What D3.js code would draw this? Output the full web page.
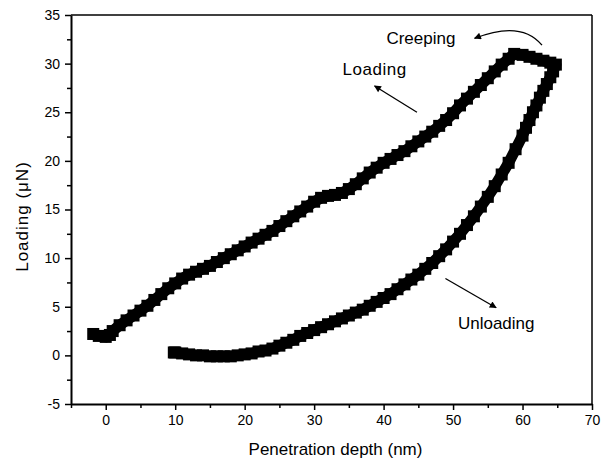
<!DOCTYPE html>
<html>
<head>
<meta charset="utf-8">
<script src="https://cdn.jsdelivr.net/npm/d3@7"></script>
<style>
  body { margin: 0; background: #fff; }
  svg { display: block; font-family: "Liberation Sans", Arial, sans-serif; }
</style>
</head>
<body>
<div id="chart"></div>
<script>
// load-depth curve (depth nm, load uN)
var loadingX = [-1.8, -1.0, 0.0, 0.6, 1, 2, 3, 4, 5, 6, 7, 8, 9, 10, 11, 12, 13, 14, 15, 16, 17, 18, 19, 20,
  21, 22, 23, 24, 25, 26, 27, 28, 29, 30, 31, 32, 33, 34, 35, 36, 37, 38, 39, 40, 41, 42, 43, 44, 45,
  46, 47, 48, 49, 50, 51, 52, 53, 54, 55, 56, 57, 58, 58.8];
var loadingY = [2.2, 2.0, 1.9, 2.1, 2.5, 3.1, 3.6, 4.1, 4.6, 5.1, 5.7, 6.3, 6.9, 7.4, 7.9, 8.3, 8.6, 8.9, 9.2, 9.6, 10.0, 10.4, 10.8, 11.2,
  11.6, 12.0, 12.4, 12.8, 13.3, 13.8, 14.3, 14.8, 15.3, 15.8, 16.2, 16.4, 16.5, 16.7, 17.1, 17.6, 18.2, 18.8, 19.3, 19.8, 20.2, 20.6, 21.0, 21.5, 22.0,
  22.5, 23.0, 23.6, 24.2, 24.9, 25.7, 26.4, 27.1, 27.8, 28.5, 29.2, 29.9, 30.5, 31.0];

var creepX = [58.8, 60, 61, 62, 63, 64, 64.8];
var creepY = [31.0, 30.9, 30.7, 30.5, 30.3, 30.1, 29.9];

var unloadX = [64.8, 64.4, 64, 63.5, 63, 62.5, 62, 61.5, 61, 60.5, 60, 59, 58, 57, 56, 55, 54, 53, 52, 51, 50,
  49, 48, 47, 46, 45, 44, 43, 42, 41, 40, 39, 38, 37, 36, 35, 34, 33, 32, 31, 30, 29, 28, 27, 26, 25,
  24, 23, 22, 21, 20, 19, 18, 17, 16, 15, 14, 13, 12, 11, 10, 9.8];
var unloadY = [29.9, 29.2, 28.6, 27.9, 27.2, 26.5, 25.7, 25.0, 24.2, 23.4, 22.6, 21.2, 19.8, 18.6, 17.4, 16.3, 15.3, 14.3, 13.4, 12.5, 11.7,
  10.9, 10.2, 9.5, 8.9, 8.3, 7.8, 7.3, 6.8, 6.3, 5.9, 5.5, 5.1, 4.7, 4.4, 4.1, 3.8, 3.5, 3.2, 2.9, 2.6, 2.3, 2.0, 1.6, 1.3, 1.0,
  0.7, 0.5, 0.4, 0.2, 0.1, 0.0, -0.1, -0.1, -0.1, -0.1, 0.0, 0.0, 0.1, 0.2, 0.3, 0.3];

var xTicks = [0, 10, 20, 30, 40, 50, 60, 70];
var xMinor = [-5, 5, 15, 25, 35, 45, 55, 65];
var yTicks = [-5, 0, 5, 10, 15, 20, 25, 30, 35];
var yMinor = [-2.5, 2.5, 7.5, 12.5, 17.5, 22.5, 27.5, 32.5];

// set the dimensions and margins of the graph
var margin = {top: 15, right: 18, bottom: 59, left: 71},
    width = 610 - margin.left - margin.right,
    height = 463 - margin.top - margin.bottom;

var x = d3.scaleLinear().domain([-5, 70]).range([0, width]);
var y = d3.scaleLinear().domain([-5, 35]).range([height, 0]);

var svg = d3.select("#chart").append("svg")
    .attr("width", 610)
    .attr("height", 463)
  .append("g")
    .attr("transform", "translate(" + margin.left + "," + margin.top + ")");

function zip(xs, ys) {
  return xs.map(function(v, i) { return {x: v, y: ys[i]}; });
}
var curve = zip(loadingX, loadingY).concat(zip(creepX, creepY).slice(1), zip(unloadX, unloadY).slice(1));

// thick trace
var line = d3.line()
    .x(function(d) { return x(d.x); })
    .y(function(d) { return y(d.y); });

svg.append("path")
    .datum(curve)
    .attr("d", line)
    .attr("fill", "none")
    .attr("stroke", "#000")
    .attr("stroke-width", 11)
    .attr("stroke-linejoin", "round");

// square markers
var s = 12;
svg.append("g").selectAll("rect")
    .data(curve)
    .enter().append("rect")
    .attr("x", function(d) { return x(d.x) - s / 2; })
    .attr("y", function(d) { return y(d.y) - s / 2; })
    .attr("width", s)
    .attr("height", s)
    .attr("fill", "#000");

// frame (top and right)
svg.append("line").attr("x1", x(-5)).attr("x2", x(70)).attr("y1", y(35)).attr("y2", y(35))
    .attr("stroke", "#000").attr("stroke-width", 1.5);
svg.append("line").attr("x1", x(70)).attr("x2", x(70)).attr("y1", y(35)).attr("y2", y(-5))
    .attr("stroke", "#000").attr("stroke-width", 1.5);

// minor ticks
svg.append("g")
    .attr("transform", "translate(0," + height + ")")
    .call(d3.axisBottom(x).tickValues(xMinor).tickSize(4).tickFormat(""))
    .call(function(g) { g.select(".domain").remove(); })
    .selectAll("line").attr("stroke-width", 1.5);
svg.append("g")
    .call(d3.axisLeft(y).tickValues(yMinor).tickSize(4).tickFormat(""))
    .call(function(g) { g.select(".domain").remove(); })
    .selectAll("line").attr("stroke-width", 1.5);

// x axis
var xAxis = svg.append("g")
    .attr("transform", "translate(0," + height + ")")
    .call(d3.axisBottom(x).tickValues(xTicks).tickSize(6).tickSizeOuter(0).tickPadding(5)
        .tickFormat(function(d) { return String(d); }));
xAxis.select(".domain").attr("stroke-width", 2);
xAxis.selectAll(".tick line").attr("stroke-width", 1.5);
xAxis.selectAll("text").attr("font-size", 14).attr("fill", "#000")
    .attr("font-family", "Liberation Sans, Arial, sans-serif");

// y axis
var yAxis = svg.append("g")
    .call(d3.axisLeft(y).tickValues(yTicks).tickSize(6).tickSizeOuter(0).tickPadding(5)
        .tickFormat(function(d) { return String(d); }));
yAxis.select(".domain").attr("stroke-width", 2);
yAxis.selectAll(".tick line").attr("stroke-width", 1.5);
yAxis.selectAll("text").attr("font-size", 14).attr("fill", "#000")
    .attr("font-family", "Liberation Sans, Arial, sans-serif");

// axis titles
svg.append("text")
    .attr("x", width / 2 + 4)
    .attr("y", height + 51)
    .attr("text-anchor", "middle")
    .attr("font-size", 17)
    .text("Penetration depth (nm)");

svg.append("text")
    .attr("transform", "translate(" + (28 - margin.left) + "," + (y(15) + 7) + ") rotate(-90)")
    .attr("text-anchor", "middle")
    .attr("font-size", 17)
    .attr("letter-spacing", 1)
    .text("Loading (\u03bcN)");

// annotations
var defs = svg.append("defs");
defs.append("marker")
    .attr("id", "head")
    .attr("viewBox", "0 0 10 10")
    .attr("refX", 9).attr("refY", 5)
    .attr("markerWidth", 9).attr("markerHeight", 7)
    .attr("markerUnits", "userSpaceOnUse")
    .attr("orient", "auto")
  .append("path")
    .attr("d", "M0,0 L10,5 L0,10 Z")
    .attr("fill", "#000");

function arrow(x0, y0, x1, y1) {
  svg.append("line")
      .attr("x1", x(x0)).attr("y1", y(y0))
      .attr("x2", x(x1)).attr("y2", y(y1))
      .attr("stroke", "#000").attr("stroke-width", 1.3)
      .attr("marker-end", "url(#head)");
}
arrow(44.8, 25.0, 38.7, 27.7);   // Loading
arrow(48.9, 7.9, 56.2, 4.9);     // Unloading

// Creeping curved arrow
var p0 = [x(62.8), y(31.9)], pc = [x(59.8), y(34.5)], p1 = [x(53.1), y(32.6)];
svg.append("path")
    .attr("d", "M" + p0 + " Q" + pc + " " + p1)
    .attr("fill", "none").attr("stroke", "#000").attr("stroke-width", 1.3)
    .attr("marker-end", "url(#head)");

svg.append("text").attr("x", x(34.1)).attr("y", y(28.8)).attr("font-size", 17)
    .attr("letter-spacing", 0.5).text("Loading");
svg.append("text").attr("x", x(50.7)).attr("y", y(2.7)).attr("font-size", 17)
    .text("Unloading");
svg.append("text").attr("x", x(40.4)).attr("y", y(32.0)).attr("font-size", 17)
    .text("Creeping");
</script>
</body>
</html>
